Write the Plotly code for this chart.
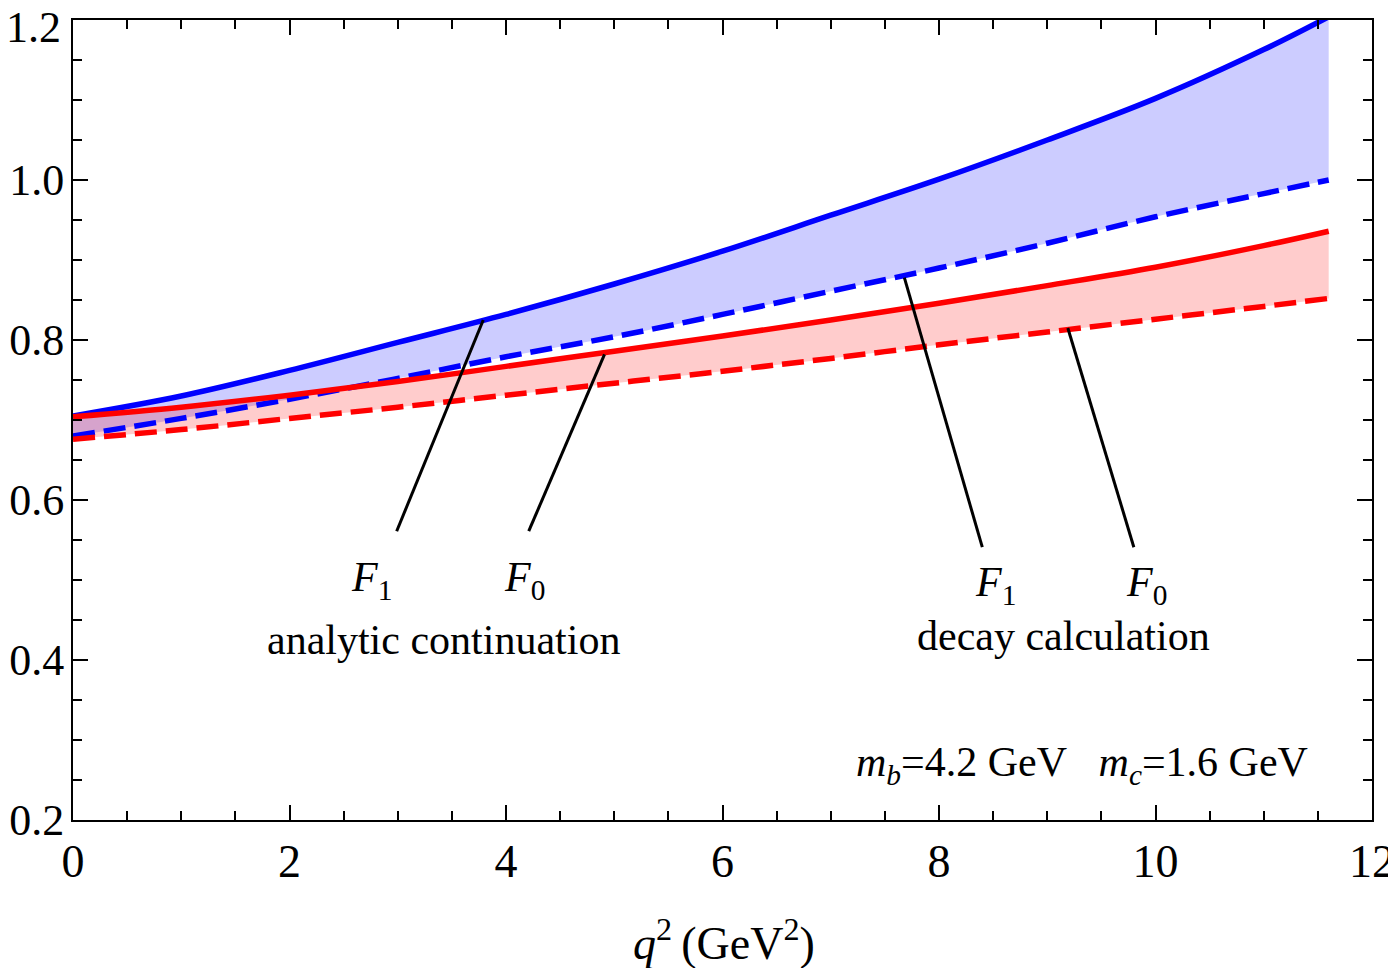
import plotly.graph_objects as go

# q^2 grid (GeV^2)
q2 = [0, 1, 2, 3, 4, 5, 6, 7, 8, 9, 10, 11, 11.6]

# F1 / F0
f1_analytic = [0.705, 0.730, 0.762, 0.797, 0.832, 0.870, 0.911, 0.956, 1.001, 1.050, 1.102, 1.163, 1.204]
f1_decay = [0.680, 0.702, 0.726, 0.752, 0.779, 0.804, 0.832, 0.861, 0.890, 0.921, 0.954, 0.983, 1.000]
f0_analytic = [0.704, 0.716, 0.731, 0.748, 0.767, 0.786, 0.805, 0.825, 0.846, 0.868, 0.891, 0.918, 0.936]
f0_decay = [0.676, 0.688, 0.702, 0.716, 0.731, 0.746, 0.761, 0.777, 0.794, 0.810, 0.826, 0.842, 0.852]

# label pointer lines (label end -> curve end)
pointer_x = [[2.99, 3.79], [4.21, 4.91], [8.40, 7.68], [9.80, 9.19]]
pointer_y = [[0.561, 0.825], [0.561, 0.782], [0.541, 0.878], [0.541, 0.815]]

y_ticks = [0.2, 0.4, 0.6, 0.8, 1.0, 1.2]
y_labels = ["0.2", "0.4", "0.6", "0.8", "1.0", "1.2"]
x_ticks = [0, 2, 4, 6, 8, 10, 12]

FONT = "Liberation Serif, Times New Roman, serif"
BLUE = "rgb(0,0,255)"
RED = "rgb(255,0,0)"
DASH = "22px,9px"

fig = go.Figure()

# shaded bands first so the lines sit on top
fig.add_trace(go.Scatter(x=q2, y=f1_decay, mode='lines', line=dict(width=0, shape='spline'),
                         showlegend=False, hoverinfo='skip'))
fig.add_trace(go.Scatter(x=q2, y=f1_analytic, mode='lines', line=dict(width=0, shape='spline'),
                         fill='tonexty', fillcolor='rgba(0,0,255,0.2)', showlegend=False, hoverinfo='skip'))
fig.add_trace(go.Scatter(x=q2, y=f0_decay, mode='lines', line=dict(width=0, shape='spline'),
                         showlegend=False, hoverinfo='skip'))
fig.add_trace(go.Scatter(x=q2, y=f0_analytic, mode='lines', line=dict(width=0, shape='spline'),
                         fill='tonexty', fillcolor='rgba(255,0,0,0.2)', showlegend=False, hoverinfo='skip'))

# curves
fig.add_trace(go.Scatter(x=q2, y=f1_analytic, mode='lines', name='F1 analytic',
                         line=dict(color=BLUE, width=5.5, shape='spline')))
fig.add_trace(go.Scatter(x=q2, y=f1_decay, mode='lines', name='F1 decay',
                         line=dict(color=BLUE, width=5.5, dash=DASH, shape='spline')))
fig.add_trace(go.Scatter(x=q2, y=f0_analytic, mode='lines', name='F0 analytic',
                         line=dict(color=RED, width=5.5, shape='spline')))
fig.add_trace(go.Scatter(x=q2, y=f0_decay, mode='lines', name='F0 decay',
                         line=dict(color=RED, width=5.5, dash=DASH, shape='spline')))

# pointer lines
for px, py in zip(pointer_x, pointer_y):
    fig.add_trace(go.Scatter(x=px, y=py, mode='lines', line=dict(color='black', width=3),
                             showlegend=False, hoverinfo='skip'))

# labels
labels = [
    (2.76, 0.500, "<i>F</i><sub>1</sub>"),
    (4.17, 0.500, "<i>F</i><sub>0</sub>"),
    (3.42, 0.425, "analytic continuation"),
    (8.52, 0.494, "<i>F</i><sub>1</sub>"),
    (9.92, 0.494, "<i>F</i><sub>0</sub>"),
    (9.15, 0.430, "decay calculation"),
    (9.32, 0.269, "<i>m</i><sub><i>b</i></sub>=4.2 GeV\u00a0\u00a0\u00a0<i>m</i><sub><i>c</i></sub>=1.6 GeV"),
]
for x, y, t in labels:
    fig.add_annotation(x=x, y=y, text=t, showarrow=False, xanchor='center', yanchor='middle',
                       font=dict(family=FONT, size=42, color='black'))

# x axis title
fig.add_annotation(x=0.501, y=-0.15, xref='paper', yref='paper', showarrow=False,
                   text="<i>q</i><sup>2</sup>\u2009(GeV<sup>2</sup>)", xanchor='center', yanchor='middle',
                   font=dict(family=FONT, size=46, color='black'))

# top y label would be clipped at the page edge, so draw it a few px lower
fig.add_annotation(x=0, y=y_ticks[-1], xref='paper', yref='y', showarrow=False,
                   text=y_labels[-1], xanchor='right', yanchor='middle', xshift=-10, yshift=-7,
                   font=dict(family=FONT, size=44, color='black'))
y_text = y_labels[:-1] + [""]

axis_common = dict(showgrid=False, zeroline=False, showline=True, linecolor='black', linewidth=2,
                   mirror='allticks', ticks='inside', ticklen=15, tickwidth=1.5, tickcolor='black',
                   automargin=False, ticklabeloverflow='allow')

fig.update_xaxes(range=[0, 12], tickvals=x_ticks,
                 minor=dict(dtick=0.5, ticks='inside', ticklen=9, tickwidth=1.5, tickcolor='black'),
                 ticklabelstandoff=0, tickfont=dict(family=FONT, size=46, color='black'), **axis_common)
fig.update_yaxes(range=[0.2, 1.2], tickvals=y_ticks, ticktext=y_text,
                 minor=dict(dtick=0.05, ticks='inside', ticklen=9, tickwidth=1.5, tickcolor='black'),
                 ticklabelstandoff=-2, tickfont=dict(family=FONT, size=44, color='black'), **axis_common)

# page body adds an 8px offset, so the figure is sized to fit the window
fig.update_layout(width=1388, height=960, plot_bgcolor='white', paper_bgcolor='white',
                  margin=dict(l=65, r=24, t=12, b=148), showlegend=False,
                  font=dict(family=FONT, color='black'))

fig.write_html("out.html")
